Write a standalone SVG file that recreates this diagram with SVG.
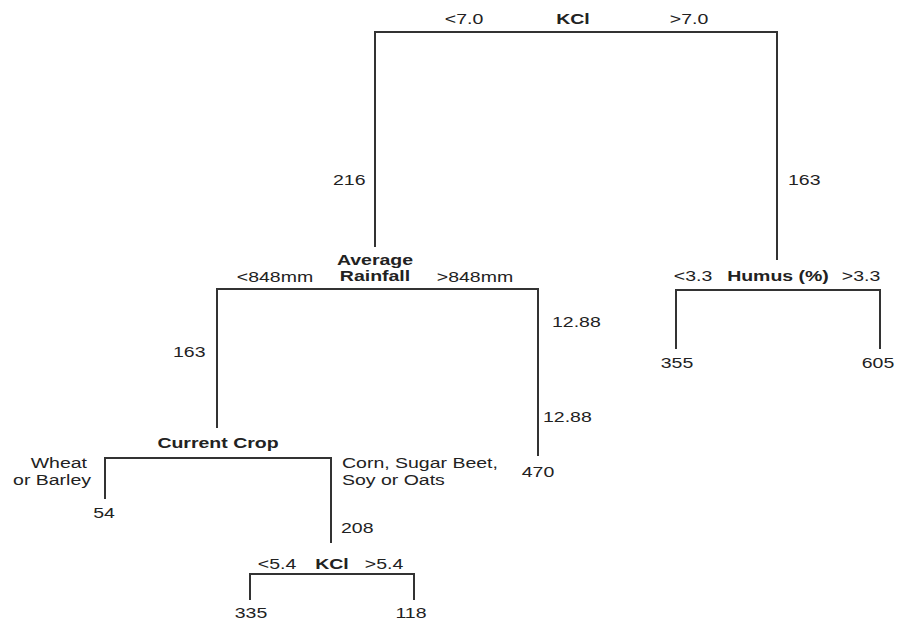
<svg xmlns="http://www.w3.org/2000/svg" width="898" height="623" viewBox="0 0 898 623">
<style>
text{font-family:"Liberation Sans",Arial,sans-serif;font-size:15px;fill:#222}
.b{font-weight:bold}
.m{text-anchor:middle}
.e{text-anchor:end}
.c line{stroke:#333;stroke-width:2;fill:none}
</style>
<rect width="898" height="623" fill="#fff"/>
<g class="c" id="connectors">
<line x1="375" y1="32" x2="777" y2="32"/>
<line x1="375" y1="31" x2="375" y2="247"/>
<line x1="777" y1="31" x2="777" y2="260"/>
<line x1="217" y1="289" x2="538" y2="289"/>
<line x1="217" y1="288" x2="217" y2="428"/>
<line x1="538" y1="288" x2="538" y2="456"/>
<line x1="676" y1="290" x2="880" y2="290"/>
<line x1="676" y1="289" x2="676" y2="349"/>
<line x1="880" y1="289" x2="880" y2="349"/>
<line x1="105" y1="458" x2="331" y2="458"/>
<line x1="105" y1="457" x2="105" y2="499"/>
<line x1="331" y1="457" x2="331" y2="543"/>
<line x1="250" y1="574" x2="414" y2="574"/>
<line x1="250" y1="573" x2="250" y2="600"/>
<line x1="414" y1="573" x2="414" y2="600"/>
</g>
<g id="kcl-root">
<text class="b m" transform="translate(573,24) scale(1.3,1)">KCl</text>
<text class="m" transform="translate(464,24) scale(1.3,1)">&lt;7.0</text>
<text class="m" transform="translate(689,24) scale(1.3,1)">&gt;7.0</text>
</g>
<g id="edge-labels-top">
<text transform="translate(333,185) scale(1.3,1)">216</text>
<text transform="translate(788,185) scale(1.3,1)">163</text>
</g>
<g id="rainfall">
<text class="b m" transform="translate(375,265) scale(1.3,1)">Average</text>
<text class="b m" transform="translate(375,281) scale(1.3,1)">Rainfall</text>
<text class="m" transform="translate(275,282) scale(1.3,1)">&lt;848mm</text>
<text class="m" transform="translate(475,282) scale(1.3,1)">&gt;848mm</text>
</g>
<g id="rainfall-labels">
<text transform="translate(173,357) scale(1.3,1)">163</text>
<text transform="translate(552,327) scale(1.3,1)">12.88</text>
<text transform="translate(543,422) scale(1.3,1)">12.88</text>
</g>
<g id="leaf-470"><text class="m" transform="translate(538,477) scale(1.3,1)">470</text></g>
<g id="humus">
<text class="b m" transform="translate(778,281) scale(1.3,1)">Humus (%)</text>
<text class="m" transform="translate(693,281) scale(1.3,1)">&lt;3.3</text>
<text class="m" transform="translate(861,281) scale(1.3,1)">&gt;3.3</text>
</g>
<g id="leaf-355"><text class="m" transform="translate(677,368) scale(1.3,1)">355</text></g>
<g id="leaf-605"><text class="m" transform="translate(878,368) scale(1.3,1)">605</text></g>
<g id="crop">
<text class="b m" transform="translate(218,448) scale(1.3,1)">Current Crop</text>
<text class="e" transform="translate(87,468) scale(1.3,1)">Wheat</text>
<text class="e" transform="translate(91,485) scale(1.3,1)">or Barley</text>
<text transform="translate(342,468) scale(1.3,1)">Corn, Sugar Beet,</text>
<text transform="translate(342,485) scale(1.3,1)">Soy or Oats</text>
<text transform="translate(341,533) scale(1.3,1)">208</text>
</g>
<g id="leaf-54"><text class="m" transform="translate(104,518) scale(1.3,1)">54</text></g>
<g id="kcl-2">
<text class="b m" transform="translate(332,569) scale(1.3,1)">KCl</text>
<text class="m" transform="translate(277,569) scale(1.3,1)">&lt;5.4</text>
<text class="m" transform="translate(384,569) scale(1.3,1)">&gt;5.4</text>
</g>
<g id="leaf-335"><text class="m" transform="translate(251,618) scale(1.3,1)">335</text></g>
<g id="leaf-118"><text class="m" transform="translate(411,618) scale(1.3,1)">118</text></g>
</svg>
